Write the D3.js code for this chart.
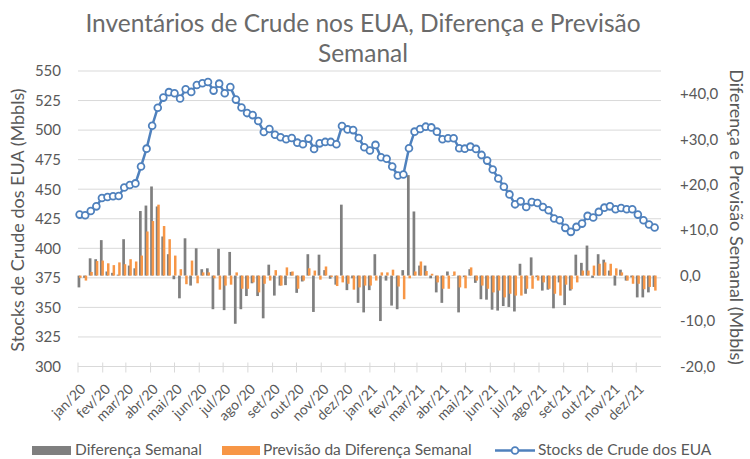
<!DOCTYPE html>
<meta charset="utf-8">
<head>
    <!-- load the d3.js library -->
    <script src="https://d3js.org/d3.v7.min.js"></script>
    <style>
    body { margin: 0; background-color: white; }
    text { font-family: Lato, 'Open Sans', sans-serif; fill: #595959; }
    .grid line { stroke: #d9d9d9; stroke-width: 1px; }
    .axis text { font-size: 15px; }
    .title { font-size: 24.5px; fill: #6a6a6a; }
    .ytitle { font-size: 18px; }
    .legend text { font-size: 15.5px; }
    </style>
</head>
<body>
<svg id="chart" width="750" height="459"></svg>
<script>

// weekly US crude stocks (Mbbls), one value per week, from week ending 3 Jan 2020
var stocks = [428.5, 428.0, 431.6, 435.5, 442.5, 443.4, 444.0, 444.2, 451.5, 453.5,
    454.9, 469.2, 484.3, 503.7, 518.9, 527.5, 532.1, 531.2, 526.7, 534.6,
    532.3, 538.2, 539.6, 540.7, 533.4, 539.3, 531.2, 536.5, 525.8, 519.1,
    514.4, 512.7, 507.7, 498.4, 500.9, 496.1, 493.9, 492.2, 493.3, 489.4,
    488.0, 492.8, 484.1, 488.8, 490.0, 490.0, 488.0, 503.4, 500.6, 500.0,
    493.3, 485.5, 482.7, 487.5, 477.0, 475.7, 469.2, 461.6, 462.5, 484.6,
    498.7, 500.9, 502.9, 502.3, 498.7, 492.2, 493.1, 493.1, 484.6, 484.3,
    486.0, 484.1, 479.0, 474.2, 466.7, 459.1, 452.1, 445.6, 437.2, 439.7,
    435.0, 439.1, 438.3, 435.0, 432.2, 425.2, 423.7, 417.3, 413.9, 418.1,
    420.9, 427.4, 426.0, 430.8, 434.4, 435.5, 433.0, 434.1, 433.0, 433.0,
    428.5, 423.7, 420.1, 417.6];

// weekly difference (Mbbls)
var weeklyDiff = [-2.6, -0.5, 3.8, 3.6, 7.8, 0.9, 0.6, 0.2, 8.0, 2.2,
    1.6, 14.2, 15.4, 19.6, 15.2, 8.6, 4.7, -0.8, -5.0, 8.2,
    -2.2, 6.0, 1.4, 1.6, -7.4, 5.9, -7.6, 5.2, -10.6, -7.4,
    -4.5, -1.7, -4.5, -9.4, 2.4, -4.4, -2.2, -2.1, 0.8, -3.8,
    -1.3, 4.7, -8.0, 4.6, 1.2, -0.7, -2.0, 15.6, -3.2, -0.6,
    -6.0, -8.1, -3.2, 4.7, -10.0, -1.1, -6.6, -7.4, 1.2, 22.1,
    14.1, 2.2, 2.2, -0.6, -3.7, -6.0, 0.9, 0.1, -8.1, -0.3,
    1.4, -1.6, -5.2, -5.3, -7.5, -7.7, -6.7, -6.9, -7.9, 2.6,
    -4.0, 4.0, -0.3, -3.3, -3.1, -7.2, -1.5, -6.5, -3.3, 4.6,
    2.8, 6.6, -0.5, 4.7, 3.5, 1.1, -2.2, 1.3, -1.1, -0.4,
    -4.8, -4.8, -3.7, -2.5];

// forecast of the weekly difference (Mbbls)
var forecastDiff = [-0.5, -1.1, 0.8, 3.2, 3.3, 2.7, 2.3, 2.9, 2.5, 3.6,
    3.1, 4.4, 9.7, 12.0, 15.6, 10.9, 8.0, 4.4, 1.4, -1.9,
    3.3, -1.7, 0.7, 0.7, -0.6, -3.1, -2.2, -2.0, 0.7, -2.9,
    -2.9, -1.5, -3.7, -1.8, -1.1, 1.2, -2.2, 1.8, 0.9, -2.9,
    -1.1, 1.6, 1.1, -0.9, 2.0, -0.3, -2.3, -1.5, -1.8, -3.1,
    -2.6, -2.2, -2.2, -1.1, 0.7, 0.7, 1.3, -2.4, -5.2, -0.6,
    0.9, 3.1, 1.0, 0.4, -1.5, -2.9, -2.9, 0.9, -2.6, -2.8,
    1.8, -1.1, -2.2, -2.9, -3.7, -3.3, -4.8, -4.0, -4.4, -4.4,
    -2.9, -2.9, -1.1, -1.5, -2.9, -4.0, -4.4, -2.0, -3.0, -1.5,
    1.1, 1.1, 2.2, 2.6, 2.9, 2.6, 1.6, 0.7, -1.1, -1.8,
    -1.8, -3.0, -2.5, -3.3];

var firstWeek = "2020-01-03";
var monthNames = ["jan", "fev", "mar", "abr", "mai", "jun", "jul", "ago", "set", "out", "nov", "dez"];
var leftTicks = [300, 325, 350, 375, 400, 425, 450, 475, 500, 525, 550];
var rightTicks = [-20, -10, 0, 10, 20, 30, 40];
var rightTickLabels = ["-20,0", "-10,0", "0,0", "+10,0", "+20,0", "+30,0", "+40,0"];
var titleLines = ["Inventários de Crude nos EUA, Diferença e Previsão", "Semanal"];
var legendLabels = ["Diferença Semanal", "Previsão da Diferença Semanal", "Stocks de Crude dos EUA"];

var colGray = "#7f7f7f", colOrange = "#f79646", colBlue = "#4f81bd";

// plot area
var plotL = 78, plotR = 661, plotT = 71, plotB = 366.5;

var parseDate = d3.timeParse("%Y-%m-%d");
var start = parseDate(firstWeek);
var weeks = stocks.map(function(d, i) { return d3.timeDay.offset(start, 7 * i); });

var x = d3.scaleTime()
    .domain([new Date(2020, 0, 1), new Date(2022, 0, 1)])
    .range([plotL, plotR]);
var yL = d3.scaleLinear().domain([300, 550]).range([plotB, plotT]);
var yR = d3.scaleLinear().domain([-20, 45]).range([plotB, plotT]);

var svg = d3.select("#chart");

// title
svg.selectAll(".title")
    .data(titleLines)
    .enter().append("text")
    .attr("class", "title")
    .attr("x", 363)
    .attr("y", function(d, i) { return 32 + i * 30; })
    .attr("text-anchor", "middle")
    .text(function(d) { return d; });

// gridlines
svg.append("g")
    .attr("class", "grid")
    .selectAll("line")
    .data(leftTicks.slice(1))
    .enter().append("line")
    .attr("x1", plotL).attr("x2", plotR)
    .attr("y1", function(d) { return yL(d); })
    .attr("y2", function(d) { return yL(d); });

// bottom axis line and month ticks
var months = d3.timeMonth.range(new Date(2020, 0, 1), new Date(2022, 0, 1));
var xg = svg.append("g").attr("class", "grid");
xg.append("line")
    .attr("x1", plotL).attr("x2", plotR)
    .attr("y1", plotB).attr("y2", plotB);
xg.selectAll(".tk")
    .data(months)
    .enter().append("line")
    .attr("class", "tk")
    .attr("x1", function(d) { return x(d); })
    .attr("x2", function(d) { return x(d); })
    .attr("y1", plotB - 4)
    .attr("y2", plotB + 6);

svg.append("g")
    .attr("class", "axis")
    .selectAll("text")
    .data(months)
    .enter().append("text")
    .attr("transform", function(d) {
        return "translate(" + (x(d) + 5) + "," + (plotB + 20) + ") rotate(-45)";
    })
    .attr("text-anchor", "end")
    .attr("dy", "0.35em")
    .style("font-size", "14px")
    .text(function(d) {
        return monthNames[d.getMonth()] + "/" + String(d.getFullYear()).slice(2);
    });

// left axis
var gl = svg.append("g")
    .attr("class", "axis")
    .attr("transform", "translate(" + plotL + ",0)")
    .call(d3.axisLeft(yL).tickValues(leftTicks).tickSize(0).tickPadding(17));
gl.select(".domain").remove();
gl.selectAll("text").attr("fill", "#595959").style("font-family", "Lato, sans-serif");

// right axis
var gr = svg.append("g")
    .attr("class", "axis")
    .attr("transform", "translate(" + plotR + ",0)")
    .call(d3.axisRight(yR).tickValues(rightTicks).tickSize(0).tickPadding(19)
        .tickFormat(function(d, i) { return rightTickLabels[i]; }));
gr.select(".domain").remove();
gr.selectAll("text").attr("fill", "#595959").style("font-family", "Lato, sans-serif");

// axis titles
svg.append("text")
    .attr("class", "ytitle")
    .attr("transform", "translate(24," + 220 + ") rotate(-90)")
    .attr("text-anchor", "middle")
    .text("Stocks de Crude dos EUA (Mbbls)");

svg.append("text")
    .attr("class", "ytitle")
    .attr("transform", "translate(730," + 217 + ") rotate(90)")
    .attr("text-anchor", "middle")
    .text("Diferença e Previsão Semanal (Mbbls)");

// bars: weekly difference
svg.append("g")
    .selectAll("rect")
    .data(weeklyDiff)
    .enter().append("rect")
    .attr("x", function(d, i) { return x(weeks[i]) - 2; })
    .attr("width", 2.7)
    .attr("y", function(d) { return yR(Math.max(0, d)); })
    .attr("height", function(d) { return Math.abs(yR(d) - yR(0)); })
    .attr("fill", colGray);

// bars: forecast
svg.append("g")
    .selectAll("rect")
    .data(forecastDiff)
    .enter().append("rect")
    .attr("x", function(d, i) { return x(weeks[i]) - 0.5; })
    .attr("width", 2.5)
    .attr("y", function(d) { return yR(Math.max(0, d)); })
    .attr("height", function(d) { return Math.abs(yR(d) - yR(0)); })
    .attr("fill", colOrange);

// stocks line
svg.append("path")
    .datum(stocks)
    .attr("fill", "none")
    .attr("stroke", colBlue)
    .attr("stroke-width", 2.5)
    .attr("d", d3.line()
        .x(function(d, i) { return x(weeks[i]); })
        .y(function(d) { return yL(d); }));

svg.append("g")
    .selectAll("circle")
    .data(stocks)
    .enter().append("circle")
    .attr("cx", function(d, i) { return x(weeks[i]); })
    .attr("cy", function(d) { return yL(d); })
    .attr("r", 3.4)
    .attr("fill", "white")
    .attr("stroke", colBlue)
    .attr("stroke-width", 1.8);

// legend
var lg = svg.append("g").attr("class", "legend");
lg.append("rect").attr("x", 32).attr("y", 446).attr("width", 39).attr("height", 9).attr("fill", colGray);
lg.append("text").attr("x", 75).attr("y", 455).text(legendLabels[0]);
lg.append("rect").attr("x", 222).attr("y", 446).attr("width", 38).attr("height", 9).attr("fill", colOrange);
lg.append("text").attr("x", 263).attr("y", 455).text(legendLabels[1]);
lg.append("line").attr("x1", 495).attr("x2", 535).attr("y1", 450.5).attr("y2", 450.5)
    .attr("stroke", colBlue).attr("stroke-width", 2.5);
lg.append("circle").attr("cx", 515).attr("cy", 450.5).attr("r", 3.4)
    .attr("fill", "white").attr("stroke", colBlue).attr("stroke-width", 1.8);
lg.append("text").attr("x", 538).attr("y", 455).text(legendLabels[2]);

</script>
</body>
